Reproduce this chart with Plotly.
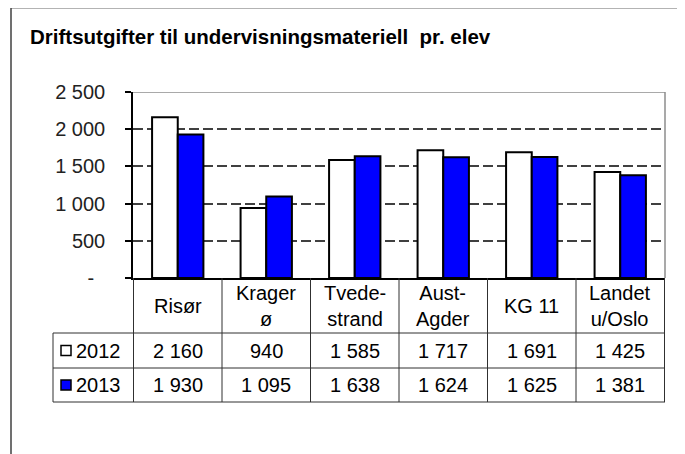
import plotly.graph_objects as go

# data
categories = ["Risør", "Kragerø", "Tvedestrand", "Aust-Agder", "KG 11", "Landet u/Oslo"]
headerLabels = ["Risør", "Krager<br>ø", "Tvede-<br>strand", "Aust-<br>Agder", "KG 11", "Landet<br>u/Oslo"]
series = ["2012", "2013"]
values2012 = [2160, 940, 1585, 1717, 1691, 1425]
values2013 = [1930, 1095, 1638, 1624, 1625, 1381]
yTicks = [0, 500, 1000, 1500, 2000, 2500]

def fmt(v):
    return f"{v:,}".replace(",", "\u00a0")

yTickText = ["-\u00a0\u00a0" if v == 0 else fmt(v) for v in yTicks]

font = "Liberation Sans, Arial, sans-serif"
blue = "#0000FF"
tableLine = "#303030"
yMax = yTicks[-1]

# page has an 8px body margin; work in window pixels and shift
OFF = 8
W, H = 685 - OFF, 454 - OFF
L, R, T, B = 133 - OFF, 20, 92 - OFF, 52 - OFF
pw, ph = W - L - R, H - T - B
def px(x): return (x - OFF - L) / pw
def py(y): return (H - B - (y - OFF)) / ph

axisBottom = py(278)
row1Top, row2Top = py(333), py(368)

fig = go.Figure()
fig.add_trace(go.Bar(x=categories, y=values2012, name=series[0],
                     marker=dict(color="white", line=dict(color="black", width=2))))
fig.add_trace(go.Bar(x=categories, y=values2013, name=series[1],
                     marker=dict(color=blue, line=dict(color="black", width=2))))

shapes = []
# plot area border (top, right) gray
shapes.append(dict(type="line", xref="paper", yref="y", x0=0, x1=1, y0=yMax, y1=yMax,
                   line=dict(color="#8c8c8c", width=1.5)))
shapes.append(dict(type="line", xref="paper", yref="y", x0=1, x1=1, y0=0, y1=yMax,
                   line=dict(color="#8c8c8c", width=1.5)))
# table grid
n = len(categories)
for i in range(n + 1):
    shapes.append(dict(type="line", xref="x", yref="paper", x0=i - 0.5, x1=i - 0.5,
                       y0=py(402), y1=axisBottom, line=dict(color=tableLine, width=1)))
for yy in [row1Top, row2Top, py(402)]:
    shapes.append(dict(type="line", xref="paper", yref="paper", x0=px(53), x1=1,
                       y0=yy, y1=yy, line=dict(color=tableLine, width=1)))
shapes.append(dict(type="line", xref="paper", yref="paper", x0=px(53), x1=px(53),
                   y0=py(402), y1=row1Top, line=dict(color=tableLine, width=1)))
# legend keys
rowBounds = [(row1Top, row2Top), (row2Top, py(402))]
for k, col in enumerate(["white", blue]):
    mid = sum(rowBounds[k]) / 2
    shapes.append(dict(type="rect", xref="paper", yref="paper",
                       x0=px(61), x1=px(71), y0=mid - 5 / ph, y1=mid + 5 / ph,
                       fillcolor=col, line=dict(color="black", width=1.5)))
# outer frame
shapes.append(dict(type="line", xref="paper", yref="paper", x0=px(11), x1=px(700),
                   y0=py(8), y1=py(8), line=dict(color="#9a9a9a", width=1.5)))
shapes.append(dict(type="line", xref="paper", yref="paper", x0=px(11), x1=px(11),
                   y0=py(8), y1=py(460), line=dict(color="#404040", width=1.5)))

annotations = []
tf = dict(family=font, size=20, color="black")
for c, lab in zip(categories, headerLabels):
    annotations.append(dict(x=c, xref="x", y=(axisBottom + row1Top) / 2, yref="paper",
                            text=lab, showarrow=False, font=tf, yanchor="middle"))
for k, vals in enumerate([values2012, values2013]):
    mid = sum(rowBounds[k]) / 2
    for c, v in zip(categories, vals):
        annotations.append(dict(x=c, xref="x", y=mid, yref="paper", text=fmt(v),
                                showarrow=False, font=tf, yanchor="middle"))
    annotations.append(dict(x=px(74), xref="paper", y=mid, yref="paper", text=series[k],
                            showarrow=False, font=tf, xanchor="left", yanchor="middle"))

fig.update_layout(
    width=W, height=H,
    margin=dict(l=L, r=R, t=T, b=B),
    paper_bgcolor="white", plot_bgcolor="white",
    showlegend=False,
    barmode="group", bargap=0.42, bargroupgap=0,
    title=dict(text="<b>Driftsutgifter til undervisningsmateriell  pr. elev</b>",
               x=(30 - OFF) / W, xanchor="left", y=1 - (37 - OFF) / H, yanchor="middle",
               font=dict(family=font, size=20.5, color="black")),
    font=dict(family=font, color="black"),
    shapes=shapes, annotations=annotations,
)
fig.update_xaxes(showticklabels=False, showgrid=False, showline=True,
                 linecolor="black", linewidth=1.5, ticks="")
fig.update_yaxes(domain=[axisBottom, 1], range=[0, yMax], tickvals=yTicks, ticktext=yTickText,
                 showgrid=True, gridcolor="#404040", gridwidth=1.5, griddash="10px,4px",
                 showline=True, linecolor="black", linewidth=1.5,
                 ticks="outside", ticklen=6, tickcolor="black", tickwidth=1.5,
                 ticklabelstandoff=16, zeroline=False,
                 tickfont=dict(family=font, size=20, color="#222222"))

fig.write_html("out.html")
